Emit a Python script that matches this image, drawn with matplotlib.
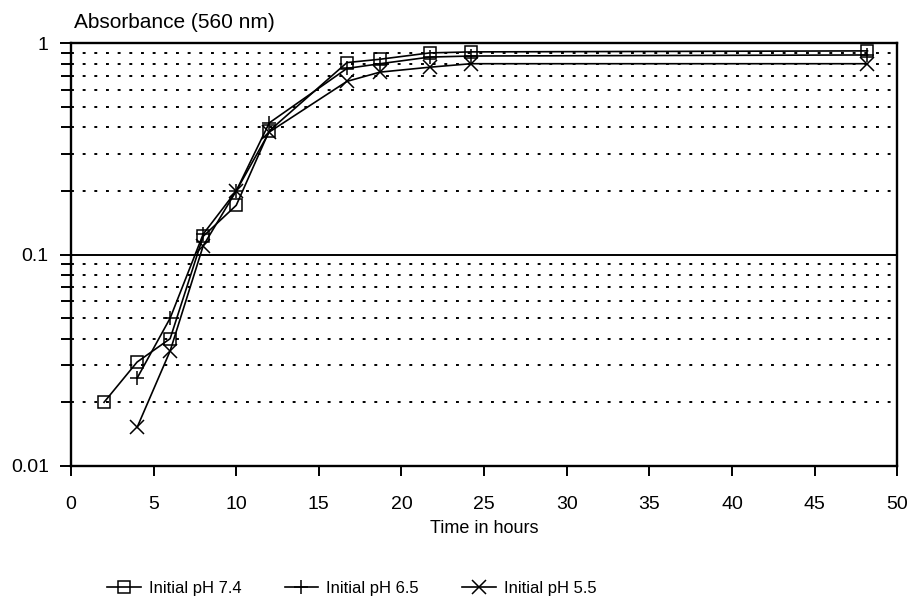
import matplotlib.pyplot as plt
from matplotlib.ticker import FixedLocator, NullFormatter

plt.rcParams["font.family"] = ["Liberation Sans", "DejaVu Sans"]

horas = [2, 4, 6, 8, 10, 12, 16.7, 18.7, 21.7, 24.2, 48.2]
horas_b = [4, 6, 8, 10, 12, 16.7, 18.7, 21.7, 24.2, 48.2]

ph74 = [0.020, 0.031, 0.040, 0.122, 0.171, 0.385, 0.81, 0.84, 0.90, 0.91, 0.92]
ph65 = [0.026, 0.050, 0.125, 0.20, 0.42, 0.76, 0.80, 0.86, 0.87, 0.88]
ph55 = [0.0152, 0.035, 0.110, 0.20, 0.38, 0.66, 0.73, 0.77, 0.80, 0.80]

series = [
    (horas, ph74, "s", "Initial pH 7.4"),
    (horas_b, ph65, "+", "Initial pH 6.5"),
    (horas_b, ph55, "x", "Initial pH 5.5"),
]

fig = plt.figure(figsize=(9.16, 6.09), dpi=100)
ax = fig.add_axes([0.0775, 0.235, 0.902, 0.694])

# rejilla punteada en 2..9 de cada decada, linea continua en 0.1
for d in [0.01, 0.1]:
    for m in range(2, 10):
        ax.axhline(d * m, color="black", linestyle=(0, (1.5, 4.5)), linewidth=1.4, zorder=1)
ax.axhline(0.1, color="black", linewidth=1.4, zorder=1)

for x, y, marca, nombre in series:
    ax.plot(x, y, color="black", linewidth=1.2, marker=marca, markersize=10 if marca != "s" else 9,
            markerfacecolor="none", markeredgecolor="black",
            markeredgewidth=1.1, label=nombre, zorder=3)

ax.set_yscale("log")
ax.set_ylim(0.01, 1)
ax.set_xlim(0, 50)
ax.set_xticks(range(0, 51, 5))
ax.set_yticks([0.01, 0.1, 1])
ax.set_yticklabels(["0.01", "0.1", "1"])
ax.yaxis.set_minor_locator(FixedLocator([d * m for d in [0.01, 0.1] for m in range(2, 10)]))
ax.yaxis.set_minor_formatter(NullFormatter())
ax.tick_params(axis="x", which="major", direction="out", length=7, width=1.4, labelsize=14, pad=15)
ax.tick_params(axis="y", which="major", direction="out", length=8, width=1.4, labelsize=14, pad=8)
ax.tick_params(axis="y", which="minor", direction="out", length=7, width=1.4)
for s in ax.spines.values():
    s.set_linewidth(1.7)

ax.set_xlabel("Time in hours", fontsize=13, labelpad=5)
fig.text(0.081, 0.954, "Absorbance (560 nm)", fontsize=15, ha="left", va="baseline")

fig.legend(loc="center left", bbox_to_anchor=(0.117, 0.034), ncol=3, frameon=False, fontsize=12,
           columnspacing=2.6, handlelength=2.0, handletextpad=0.5, borderpad=0, borderaxespad=0)

fig.savefig("out.png", dpi=100)
